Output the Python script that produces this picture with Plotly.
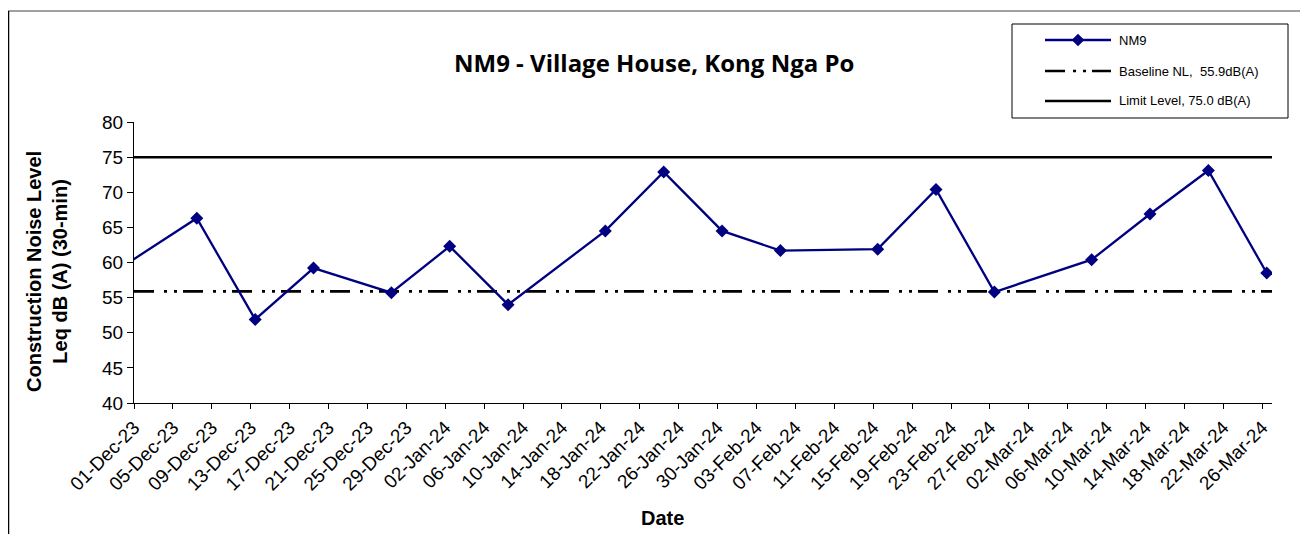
import plotly.graph_objects as go

# ---- data ----
dates = [
    "2023-11-25 11:00", "2023-12-07 11:00", "2023-12-13 11:00", "2023-12-19 11:00",
    "2023-12-27 11:00", "2024-01-02 11:00", "2024-01-08 11:00", "2024-01-18 11:00",
    "2024-01-24 11:00", "2024-01-30 11:00", "2024-02-05 11:00", "2024-02-15 11:00",
    "2024-02-21 11:00", "2024-02-27 11:00", "2024-03-08 11:00", "2024-03-14 11:00",
    "2024-03-20 11:00", "2024-03-26 11:00",
]
levels = [55.5, 66.3, 51.9, 59.2, 55.7, 62.3, 54.0, 64.5, 72.9, 64.5, 61.7, 61.9,
          70.4, 55.8, 60.4, 66.9, 73.1, 58.5]
axis_dates = ["2023-12-01", "2024-03-27"]
baseline_level = 55.9
limit_level = 75.0
series_names = ["NM9", "Baseline NL,  55.9dB(A)", "Limit Level, 75.0 dB(A)"]

# page has an 8px body margin; figure coordinates are offset by it
OFF = 8
W, H = 1308 - OFF, 534 - OFF
L, R, T, B = 134, 1272, 122, 403   # plot area in window pixels


def px(x):
    return (x - L) / (R - L)


def py(y):
    return (B - y) / (B - T)


NAVY = "#000080"
FONT = "Liberation Sans"

fig = go.Figure()
fig.add_trace(go.Scatter(
    x=axis_dates, y=[limit_level] * 2, mode="lines",
    line=dict(color="black", width=2.5), showlegend=False, hoverinfo="skip"))
fig.add_trace(go.Scatter(
    x=axis_dates, y=[baseline_level] * 2, mode="lines",
    line=dict(color="black", width=2.7, dash="20px,10px,3px,7px,3px,6px"),
    showlegend=False, hoverinfo="skip"))
fig.add_trace(go.Scatter(
    x=dates, y=levels, mode="lines+markers",
    line=dict(color=NAVY, width=2.3),
    marker=dict(symbol="diamond", size=10, color=NAVY),
    showlegend=False))

shapes = []
annotations = []

# outer chart border
shapes.append(dict(type="line", xref="paper", yref="paper", x0=px(8), x1=px(1308),
                   y0=py(11), y1=py(11), line=dict(color="#808080", width=1.5)))
shapes.append(dict(type="line", xref="paper", yref="paper", x0=px(8.5), x1=px(8.5),
                   y0=py(11), y1=py(534), line=dict(color="black", width=1.5)))

# legend box
shapes.append(dict(type="rect", xref="paper", yref="paper", x0=px(1012), x1=px(1288),
                   y0=py(24), y1=py(118), line=dict(color="black", width=1),
                   fillcolor="white"))
leg_y = [40, 71, 101]
shapes.append(dict(type="line", xref="paper", yref="paper", x0=px(1045), x1=px(1111),
                   y0=py(leg_y[0]), y1=py(leg_y[0]), line=dict(color=NAVY, width=2.3)))
cx, cy, hw = 1078, leg_y[0], 6
shapes.append(dict(type="path", xref="paper", yref="paper",
                   path=f"M{px(cx-hw)},{py(cy)} L{px(cx)},{py(cy-hw)} L{px(cx+hw)},{py(cy)} L{px(cx)},{py(cy+hw)} Z",
                   fillcolor=NAVY, line=dict(color=NAVY, width=0.5)))
shapes.append(dict(type="line", xref="paper", yref="paper", x0=px(1045), x1=px(1111),
                   y0=py(leg_y[1]), y1=py(leg_y[1]),
                   line=dict(color="black", width=2.7, dash="20px,8px,3px,7px,3px,6px")))
shapes.append(dict(type="line", xref="paper", yref="paper", x0=px(1045), x1=px(1111),
                   y0=py(leg_y[2]), y1=py(leg_y[2]), line=dict(color="black", width=2.5)))
for name, yy in zip(series_names, leg_y):
    annotations.append(dict(xref="paper", yref="paper", x=px(1117), y=py(yy),
                            xanchor="left", yanchor="middle", text=name, showarrow=False,
                            font=dict(family=FONT, size=13, color="black")))

# title
annotations.append(dict(xref="paper", yref="paper", x=px(654), y=py(62),
                        xanchor="center", yanchor="middle",
                        text="<b>NM9 - Village House, Kong Nga Po</b>", showarrow=False,
                        font=dict(family="Open Sans", size=24, color="black")))
# y title
annotations.append(dict(xref="paper", yref="paper", x=px(47), y=py(272),
                        xanchor="center", yanchor="middle", textangle=-90,
                        text="<b>Construction Noise Level<br>Leq dB (A) (30-min)</b>",
                        showarrow=False, font=dict(family=FONT, size=20, color="black")))
# x title
annotations.append(dict(xref="paper", yref="paper", x=px(662), y=py(518),
                        xanchor="center", yanchor="middle", text="<b>Date</b>",
                        showarrow=False, font=dict(family=FONT, size=20, color="black")))

fig.update_layout(
    width=W, height=H,
    margin=dict(l=L - OFF, r=W - (R - OFF), t=T - OFF, b=H - (B - OFF), pad=0),
    paper_bgcolor="white", plot_bgcolor="white",
    showlegend=False,
    shapes=shapes, annotations=annotations,
    xaxis=dict(
        type="date", range=axis_dates, tick0="2023-12-01", dtick=4 * 86400000,
        tickformat="%d-%b-%y", tickangle=-45, ticks="outside", ticklen=5,
        tickcolor="black", showline=True, linecolor="black", linewidth=1,
        showgrid=False, zeroline=False,
        tickfont=dict(family=FONT, size=19, color="black")),
    yaxis=dict(
        range=[40, 80], dtick=5, ticks="outside", ticklen=6, tickcolor="black",
        showline=True, linecolor="black", linewidth=1, showgrid=False, zeroline=False,
        tickfont=dict(family=FONT, size=19, color="black")),
)

fig.write_html("out.html")
